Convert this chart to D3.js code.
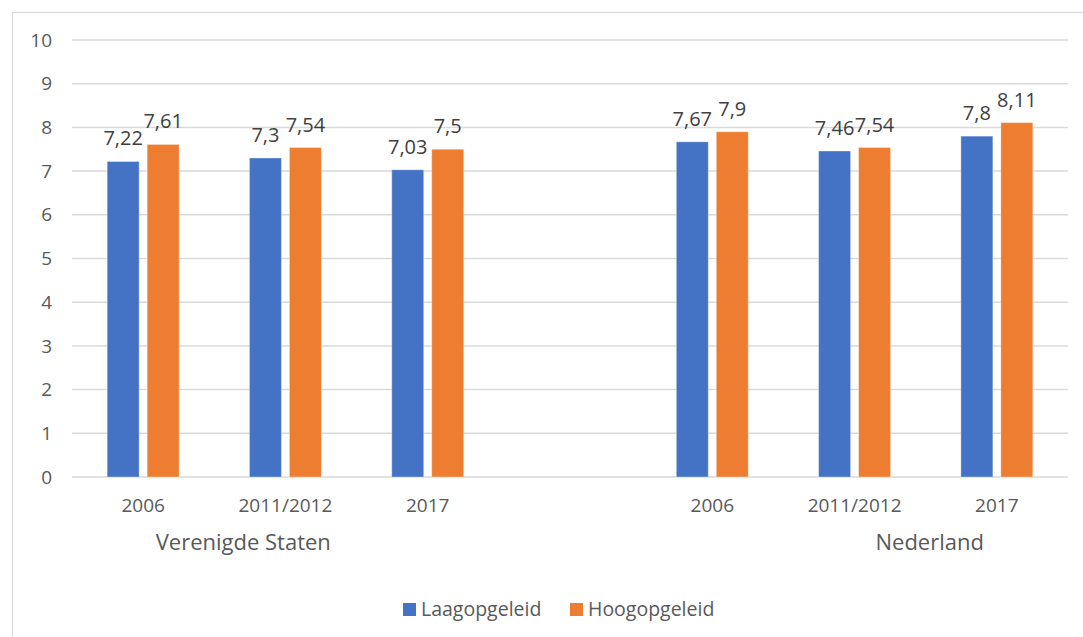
<!DOCTYPE html>
<html>
<head>
<meta charset="utf-8">
<script src="https://cdn.jsdelivr.net/npm/d3@7"></script>
<style>
  html, body { margin: 0; padding: 0; background: #fff; }
  svg { display: block; font-family: "Open Sans", "Liberation Sans", sans-serif; }
</style>
</head>
<body>
<svg id="chart"></svg>
<script>
// Grouped bar chart: Laag- vs Hoogopgeleid, VS and Nederland

const WIDTH = 1083;
const HEIGHT = 637;

const categories = ["2006", "2011/2012", "2017", "", "2006", "2011/2012", "2017"];
const laagValues = [7.22, 7.3, 7.03, null, 7.67, 7.46, 7.8];
const hoogValues = [7.61, 7.54, 7.5, null, 7.9, 7.54, 8.11];
const seriesNames = ["Laagopgeleid", "Hoogopgeleid"];
const seriesColors = ["#4472C4", "#ED7D31"];
const groupNames = ["Verenigde Staten", "Nederland"];
const yTickValues = [0, 1, 2, 3, 4, 5, 6, 7, 8, 9, 10];

const TEXT_COLOR = "#595959";
const GRID_COLOR = "#d9d9d9";

const svg = d3.select("#chart")
    .attr("width", WIDTH)
    .attr("height", HEIGHT);

// chart area border (runs off the right/bottom edge like the original)
svg.append("rect")
    .attr("x", 12.5).attr("y", 12.5)
    .attr("width", 1200).attr("height", 800)
    .attr("fill", "#fff")
    .attr("stroke", GRID_COLOR)
    .attr("stroke-width", 1.2);

const plot = { left: 72, right: 1068, top: 40, bottom: 477 };

const x = d3.scaleBand()
    .domain(d3.range(categories.length))
    .range([plot.left, plot.right])
    .padding(0);

const xInner = d3.scaleBand()
    .domain(seriesNames)
    .range([0, x.bandwidth()])
    .paddingInner(0.2)
    .paddingOuter(0.88);

const y = d3.scaleLinear()
    .domain([0, 10])
    .range([plot.bottom, plot.top]);

const fmt = v => String(v).replace(".", ",");

// gridlines
svg.append("g")
    .selectAll("line")
    .data(yTickValues)
    .join("line")
    .attr("x1", plot.left).attr("x2", plot.right)
    .attr("y1", d => y(d)).attr("y2", d => y(d))
    .attr("stroke", GRID_COLOR)
    .attr("stroke-width", 1.5);

// y tick labels
svg.append("g")
    .selectAll("text")
    .data(yTickValues)
    .join("text")
    .attr("x", 52)
    .attr("y", d => y(d))
    .attr("dy", "0.35em")
    .attr("text-anchor", "end")
    .attr("font-size", "19px")
    .attr("fill", TEXT_COLOR)
    .text(d => d);

// bars + labels
const seriesData = [laagValues, hoogValues];
seriesNames.forEach((name, si) => {
    const rows = seriesData[si]
        .map((v, i) => ({ i, v }))
        .filter(d => d.v != null);

    svg.append("g")
        .selectAll("rect")
        .data(rows)
        .join("rect")
        .attr("x", d => x(d.i) + xInner(name))
        .attr("y", d => y(d.v))
        .attr("width", xInner.bandwidth())
        .attr("height", d => y(0) - y(d.v))
        .attr("fill", seriesColors[si])
        .attr("stroke", "#fff")
        .attr("stroke-opacity", 0.35)
        .attr("stroke-width", 1);

    svg.append("g")
        .selectAll("text")
        .data(rows)
        .join("text")
        .attr("x", d => x(d.i) + xInner(name) + xInner.bandwidth() / 2)
        .attr("y", d => y(d.v) - 23)
        .attr("dy", "0.35em")
        .attr("text-anchor", "middle")
        .attr("font-size", "20px")
        .attr("fill", "#404040")
        .text(d => fmt(d.v));
});

// category labels
svg.append("g")
    .selectAll("text")
    .data(categories.map((c, i) => ({ c, i })).filter(d => d.c))
    .join("text")
    .attr("x", d => x(d.i) + x.bandwidth() / 2)
    .attr("y", 512)
    .attr("text-anchor", "middle")
    .attr("font-size", "19px")
    .attr("fill", TEXT_COLOR)
    .text(d => d.c);

// group labels
const groupX = [x(1) + 29, x(6) + 4];
svg.append("g")
    .selectAll("text")
    .data(groupNames)
    .join("text")
    .attr("x", (d, i) => groupX[i])
    .attr("y", 550)
    .attr("text-anchor", "middle")
    .attr("font-size", "22px")
    .attr("fill", TEXT_COLOR)
    .text(d => d);

// legend
const legendX = [403, 570];
const legend = svg.append("g")
    .selectAll("g")
    .data(seriesNames)
    .join("g")
    .attr("transform", (d, i) => `translate(${legendX[i]}, 603)`);

legend.append("rect")
    .attr("width", 13).attr("height", 13)
    .attr("fill", (d, i) => seriesColors[i]);

legend.append("text")
    .attr("x", 18)
    .attr("y", 13)
    .attr("font-size", "19.5px")
    .attr("fill", TEXT_COLOR)
    .text(d => d);
</script>
</body>
</html>
